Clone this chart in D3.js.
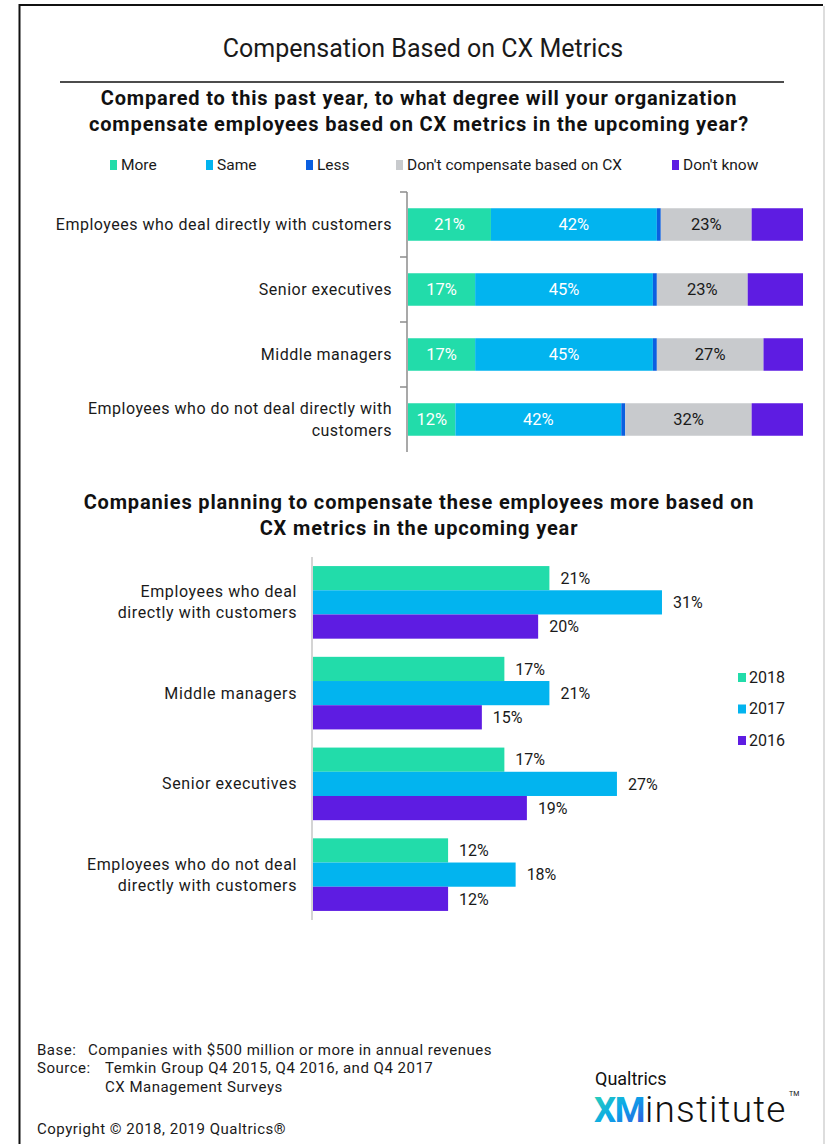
<!DOCTYPE html>
<html>
<head>
<meta charset="utf-8">
<script src="https://cdn.jsdelivr.net/npm/d3@7"></script>
<style>
  html, body { margin: 0; padding: 0; background: #fff; }
  svg { display: block; font-family: Roboto, "Liberation Sans", Arial, sans-serif; }
</style>
</head>
<body>
<svg id="chart" width="825" height="1144"></svg>
<script>
// ---- Data: stacked chart (response mix by employee group) ----
const stackCategories = [
  ["Employees who deal directly with customers"],
  ["Senior executives"],
  ["Middle managers"],
  ["Employees who do not deal directly with", "customers"]
];
const responseKeys = ["More", "Same", "Less", "Don't compensate based on CX", "Don't know"];
const moreValues     = [21, 17, 17, 12];
const sameValues     = [42, 45, 45, 42];
const lessValues     = [1, 1, 1, 1];
const dontCompValues = [23, 23, 27, 32];
const dontKnowValues = [13, 14, 10, 13];

// ---- Data: year-over-year "more" share ----
const yearCategories = [
  ["Employees who deal", "directly with customers"],
  ["Middle managers"],
  ["Senior executives"],
  ["Employees who do not deal", "directly with customers"]
];
const years = ["2018", "2017", "2016"];
const values2018 = [21, 17, 17, 12];
const values2017 = [31, 21, 27, 18];
const values2016 = [20, 15, 19, 12];

const colors = {
  "More": "#22dcaa", "Same": "#02b4ef", "Less": "#0b5fe0",
  "Don't compensate based on CX": "#c8cacd", "Don't know": "#5e1ce2",
  "2018": "#22dcaa", "2017": "#02b4ef", "2016": "#5e1ce2"
};
const labelColors = { "More": "#fff", "Same": "#fff", "Don't compensate based on CX": "#1a1a1a" };

const svg = d3.select("#chart");
const textColor = "#1a1a1a";

// ---- Frame ----
svg.append("path")
  .attr("d", "M19.5,1144 L19.5,5 L823,5")
  .attr("fill", "none").attr("stroke", "#111").attr("stroke-width", 2);
svg.append("line").attr("x1", 824).attr("x2", 824).attr("y1", 6).attr("y2", 1144)
  .attr("stroke", "#bbb").attr("stroke-width", 1);

// ---- Titles ----
svg.append("text").attr("x", 423).attr("y", 57).attr("text-anchor", "middle")
  .attr("font-size", 25).attr("fill", textColor).text("Compensation Based on CX Metrics");
svg.append("line").attr("x1", 60).attr("x2", 784).attr("y1", 82).attr("y2", 82)
  .attr("stroke", "#111").attr("stroke-width", 1.5);

function titleLines(lines, x, y0, lh) {
  const t = svg.append("text").attr("text-anchor", "middle").attr("font-size", 20)
    .attr("font-weight", "bold").attr("letter-spacing", 0.85).attr("fill", "#111");
  lines.forEach((l, i) => t.append("tspan").attr("x", x).attr("y", y0 + i * lh).text(l));
}
titleLines(["Compared to this past year, to what degree will your organization",
            "compensate employees based on CX metrics in the upcoming year?"], 419, 105, 26);
titleLines(["Companies planning to compensate these employees more based on",
            "CX metrics in the upcoming year"], 419, 509, 26);

// ---- Top legend ----
const legendX = [110, 206, 306, 396, 672];
responseKeys.forEach((k, i) => {
  const g = svg.append("g").attr("transform", `translate(${legendX[i]},160)`);
  g.append("rect").attr("width", 7).attr("height", 10).attr("fill", colors[k]);
  g.append("text").attr("x", 11).attr("y", 10).attr("font-size", 15.5)
    .attr("fill", textColor).text(k);
});

// ---- Top stacked bars ----
const topData = stackCategories.map((c, i) => ({
  key: c.join(" "), lines: c,
  "More": moreValues[i], "Same": sameValues[i], "Less": lessValues[i],
  "Don't compensate based on CX": dontCompValues[i], "Don't know": dontKnowValues[i]
}));
const yTop = d3.scaleBand().domain(topData.map(d => d.key))
  .range([192, 452]).paddingInner(0.5).paddingOuter(0.25);
const xTop = d3.scaleLinear().domain([0, 100]).range([408, 803]);
const stack = d3.stack().keys(responseKeys)(topData);

const gTop = svg.append("g");
stack.forEach(layer => {
  const k = layer.key;
  layer.forEach(seg => {
    const y = yTop(seg.data.key);
    gTop.append("rect")
      .attr("x", xTop(seg[0])).attr("y", y)
      .attr("width", xTop(seg[1]) - xTop(seg[0])).attr("height", yTop.bandwidth())
      .attr("fill", colors[k]);
    if (labelColors[k]) {
      gTop.append("text")
        .attr("x", (xTop(seg[0]) + xTop(seg[1])) / 2)
        .attr("y", y + yTop.bandwidth() / 2).attr("dy", "0.36em")
        .attr("text-anchor", "middle").attr("font-size", 16.5)
        .attr("fill", labelColors[k]).text(seg.data[k] + "%");
    }
  });
});

// Category axis (left, gray) with ticks between groups
const axisTop = svg.append("g");
axisTop.append("line").attr("x1", 407).attr("x2", 407)
  .attr("y1", yTop.range()[0]).attr("y2", yTop.range()[1])
  .attr("stroke", "#8c8c8c").attr("stroke-width", 1.5);
const step = yTop.step();
topData.forEach((d, i) => {
  const yb = i === 0 ? yTop.range()[0] : yTop(d.key) - yTop.paddingInner() * step / 2;
  axisTop.append("line").attr("x1", 400).attr("x2", 407).attr("y1", yb).attr("y2", yb)
    .attr("stroke", "#8c8c8c").attr("stroke-width", 1.5);
});
topData.forEach(d => {
  const n = d.lines.length;
  const cy = yTop(d.key) + yTop.bandwidth() / 2;
  const t = axisTop.append("text").attr("text-anchor", "end").attr("font-size", 16)
    .attr("letter-spacing", 0.5).attr("fill", textColor);
  d.lines.forEach((l, i) => t.append("tspan").attr("x", 392)
    .attr("y", cy + (i - (n - 1) / 2) * 22).attr("dy", "0.35em").text(l));
});

// ---- Bottom grouped bars ----
const yearData = yearCategories.map((c, i) => ({
  key: c.join(" "), lines: c,
  "2018": values2018[i], "2017": values2017[i], "2016": values2016[i]
}));
const y0 = d3.scaleBand().domain(yearData.map(d => d.key))
  .range([557, 920]).paddingInner(0.2).paddingOuter(0.1);
const y1 = d3.scaleBand().domain(years).range([0, y0.bandwidth()]);
const xBot = d3.scaleLinear().domain([0, 35]).range([313, 707]);

const gBot = svg.append("g");
yearData.forEach(d => {
  const g = gBot.append("g").attr("transform", `translate(0,${y0(d.key)})`);
  years.forEach(yr => {
    g.append("rect").attr("x", xBot(0)).attr("y", y1(yr))
      .attr("width", xBot(d[yr]) - xBot(0)).attr("height", y1.bandwidth())
      .attr("fill", colors[yr]);
    g.append("text").attr("x", xBot(d[yr]) + 11)
      .attr("y", y1(yr) + y1.bandwidth() / 2).attr("dy", "0.36em")
      .attr("font-size", 16).attr("fill", textColor).text(d[yr] + "%");
  });
  const n = d.lines.length;
  const cy = y0(d.key) + y0.bandwidth() / 2;
  const t = gBot.append("text").attr("text-anchor", "end").attr("font-size", 16)
    .attr("letter-spacing", 0.6).attr("fill", textColor);
  d.lines.forEach((l, i) => t.append("tspan").attr("x", 297)
    .attr("y", cy + (i - (n - 1) / 2) * 21).attr("dy", "0.35em").text(l));
});
gBot.append("line").attr("x1", 312).attr("x2", 312)
  .attr("y1", y0.range()[0]).attr("y2", y0.range()[1])
  .attr("stroke", "#d4d4d4").attr("stroke-width", 2);

// Year legend
years.forEach((yr, i) => {
  const g = svg.append("g").attr("transform", `translate(738,${673 + i * 31.5})`);
  g.append("rect").attr("width", 8).attr("height", 9).attr("fill", colors[yr]);
  g.append("text").attr("x", 11).attr("y", 9.5).attr("font-size", 16)
    .attr("fill", textColor).text(yr);
});

// ---- Footnotes ----
const foot = svg.append("g").attr("font-size", 15).attr("letter-spacing", 0.5).attr("fill", textColor);
foot.append("text").attr("x", 37).attr("y", 1055).text("Base:");
foot.append("text").attr("x", 88).attr("y", 1055).text("Companies with $500 million or more in annual revenues");
foot.append("text").attr("x", 37).attr("y", 1073).text("Source:");
foot.append("text").attr("x", 105).attr("y", 1073).text("Temkin Group Q4 2015, Q4 2016, and Q4 2017");
foot.append("text").attr("x", 105).attr("y", 1092).text("CX Management Surveys");
foot.append("text").attr("x", 37).attr("y", 1134).text("Copyright \u00A9 2018, 2019 Qualtrics\u00AE");

// ---- Logo ----
const defs = svg.append("defs");
const grad = defs.append("linearGradient").attr("id", "xmGrad")
  .attr("x1", "0%").attr("y1", "0%").attr("x2", "100%").attr("y2", "100%");
grad.append("stop").attr("offset", "0%").attr("stop-color", "#2fd6b0");
grad.append("stop").attr("offset", "50%").attr("stop-color", "#0aa6ea");
grad.append("stop").attr("offset", "100%").attr("stop-color", "#3a48d6");
svg.append("text").attr("x", 595).attr("y", 1085).attr("font-size", 18)
  .attr("fill", "#111").text("Qualtrics");
svg.append("text").attr("x", 594).attr("y", 1122).attr("font-size", 35)
  .attr("font-weight", "bold").attr("letter-spacing", -1.5)
  .attr("fill", "url(#xmGrad)").text("XM");
svg.append("text").attr("x", 645).attr("y", 1122).attr("font-size", 37)
  .attr("font-weight", 300).attr("letter-spacing", 1.2).attr("fill", "#111").text("institute");
svg.append("text").attr("x", 789).attr("y", 1096).attr("font-size", 7)
  .attr("fill", "#111").text("TM");
</script>
</body>
</html>
